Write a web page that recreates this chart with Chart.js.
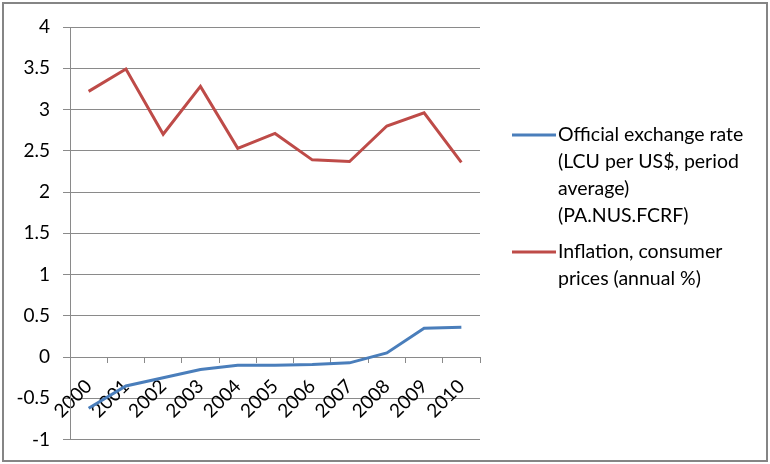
<!DOCTYPE html>
<html>
<head>
<meta charset="utf-8">
<script src="https://cdn.jsdelivr.net/npm/chart.js@4"></script>
<style>
  html, body { margin: 0; padding: 0; background: #fff; }
  #wrap { width: 770px; height: 464px; }
</style>
</head>
<body>
<div id="wrap"><canvas id="chart" width="770" height="464"></canvas></div>
<script>
const years = ['2000', '2001', '2002', '2003', '2004', '2005', '2006', '2007', '2008', '2009', '2010'];
const exchangeRate = [-0.62, -0.35, -0.25, -0.15, -0.10, -0.10, -0.09, -0.07, 0.05, 0.35, 0.36];
const inflation = [3.22, 3.49, 2.70, 3.28, 2.53, 2.71, 2.39, 2.37, 2.80, 2.96, 2.36];
const seriesLabels = [
    ['Official exchange rate', '(LCU per US$, period', 'average)', '(PA.NUS.FCRF)'],
    ['Inflation, consumer', 'prices (annual %)']
];
const yMin = -1, yMax = 4, yStep = 0.5;

const font = 'Lato, "Liberation Sans", sans-serif';
const gridColor = '#8a8a8a';

// legend on the right, lines wrapped like the original
const sideLegend = {
    id: 'sideLegend',
    afterDraw(chart) {
        const c = chart.ctx;
        let y = 135;
        c.save();
        c.font = '19.5px ' + font;
        c.textBaseline = 'middle';
        c.fillStyle = '#000';
        chart.data.datasets.forEach((ds, i) => {
            c.strokeStyle = ds.borderColor;
            c.lineWidth = 3;
            c.beginPath();
            c.moveTo(512, y);
            c.lineTo(556, y);
            c.stroke();
            seriesLabels[i].forEach((line, j) => {
                c.fillText(line, 558, y + j * 27);
            });
            y += seriesLabels[i].length * 27 + 9;
        });
        c.restore();
    }
};

// grey frame round the whole picture
const frame = {
    id: 'frame',
    beforeDraw(chart) {
        const c = chart.ctx;
        c.save();
        c.fillStyle = '#fff';
        c.fillRect(0, 0, chart.width, chart.height);
        c.strokeStyle = '#858585';
        c.lineWidth = 2;
        c.strokeRect(3, 3, 764, 458);
        c.restore();
    }
};

new Chart(document.getElementById('chart'), {
    type: 'line',
    data: {
        labels: years,
        datasets: [{
            label: seriesLabels[0].join(' '),
            data: exchangeRate,
            borderColor: '#4A7EBB',
            borderWidth: 3,
            pointRadius: 0,
            tension: 0,
            fill: false
        }, {
            label: seriesLabels[1].join(' '),
            data: inflation,
            borderColor: '#BE4B48',
            borderWidth: 3,
            pointRadius: 0,
            tension: 0,
            fill: false
        }]
    },
    options: {
        responsive: false,
        animation: false,
        layout: { padding: { left: 0, top: 27, right: 290, bottom: 0 } },
        plugins: {
            legend: { display: false },
            tooltip: { enabled: false }
        },
        scales: {
            x: {
                offset: true,
                position: { y: 0 },
                afterFit(scale) { scale.height = 31; },
                grid: {
                    display: true,
                    drawOnChartArea: false,
                    drawTicks: true,
                    tickLength: 6,
                    offset: true,
                    color: gridColor
                },
                border: { display: false },
                ticks: {
                    minRotation: 45,
                    maxRotation: 45,
                    autoSkip: false,
                    padding: 12,
                    color: '#000',
                    font: { family: font, size: 19 }
                }
            },
            y: {
                min: yMin,
                max: yMax,
                afterFit(scale) { scale.width = 70; },
                grid: {
                    color: gridColor,
                    tickLength: 7
                },
                border: { color: gridColor },
                ticks: {
                    stepSize: yStep,
                    padding: 13,
                    color: '#000',
                    font: { family: font, size: 19 },
                    callback: v => String(Math.round(v * 10) / 10)
                }
            }
        }
    },
    plugins: [frame, sideLegend]
});
</script>
</body>
</html>
